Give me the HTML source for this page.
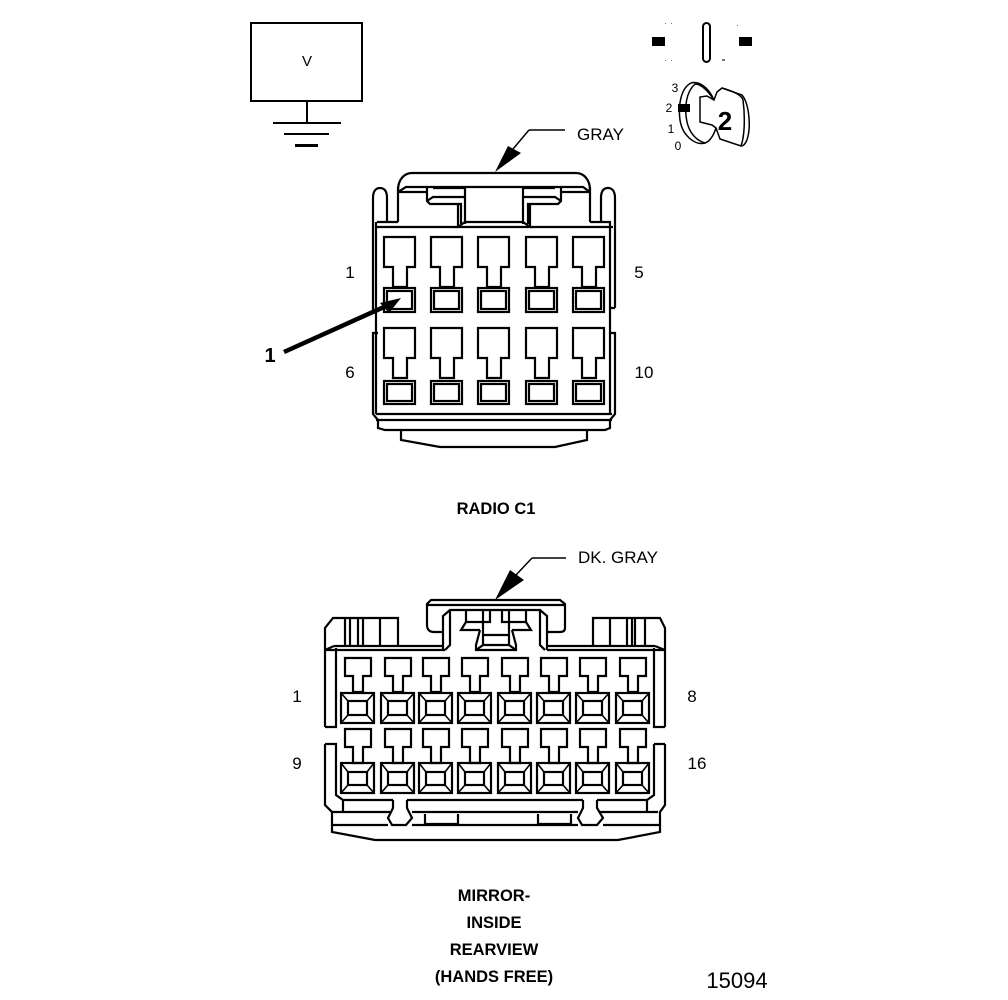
<!DOCTYPE html>
<html><head><meta charset="utf-8"><style>
html,body{margin:0;padding:0;background:#fff;width:1008px;height:1000px;overflow:hidden}
svg{display:block}
text{font-family:"Liberation Sans",sans-serif;fill:#000}
.b{font-weight:bold;font-size:16.5px;text-anchor:middle}
.l{font-size:17px}
</style></head><body>
<svg width="1008" height="1000" viewBox="0 0 1008 1000" xmlns="http://www.w3.org/2000/svg">
<defs>
<g id="a1"><path d="M384 237H415V267H407V287H393V267H384Z"/><rect x="384" y="288" width="31" height="24"/><rect x="387" y="291" width="25" height="18"/></g>
<g id="a2"><path d="M384 328H415V358H407V378H393V358H384Z"/><rect x="384" y="381" width="31" height="23"/><rect x="387" y="384" width="25" height="17"/></g>
<g id="c1"><path d="M345 658H371V676H363V692H353V676H345Z"/><rect x="341" y="693" width="33" height="30"/><rect x="348" y="701" width="19" height="14"/><path d="M341 693L348 701M374 693L367 701M341 723L348 715M374 723L367 715" stroke-width="1.6"/></g>
<g id="c2"><path d="M345 729H371V747H363V763H353V747H345Z"/><rect x="341" y="763" width="33" height="30"/><rect x="348" y="772" width="19" height="13"/><path d="M341 763L348 772M374 763L367 772M341 793L348 785M374 793L367 785" stroke-width="1.6"/></g>
</defs>

<!-- ground box -->
<g fill="none" stroke="#000" stroke-width="2">
<rect x="251" y="23" width="111" height="78"/>
<path d="M307 101V122"/>
<path d="M273 123H341M284 134H329"/>
</g>
<rect x="295" y="144" width="23" height="3"/>
<text x="307" y="66" font-size="15" text-anchor="middle">V</text>

<!-- key symbol -->
<rect x="652" y="37" width="13" height="9"/>
<rect x="739" y="37" width="13" height="9"/>
<rect x="703" y="23" width="7" height="39" rx="3.5" fill="none" stroke="#000" stroke-width="2"/>
<g fill="#777">
<rect x="665" y="23" width="1" height="1"/><rect x="671" y="23" width="1" height="1"/><rect x="665" y="60" width="1" height="1"/><rect x="671" y="60" width="1" height="1"/><rect x="737" y="25" width="1" height="1"/><rect x="722" y="59" width="3" height="2"/>
</g>
<g fill="none" stroke="#000" stroke-width="1.5">
<path d="M714 100C708 86 698 81 691 83C681 88 678 105 680 120C682 135 695 146 705 143C711 141 714 134 716 128"/>
<path d="M714 100C707 89 700 84 695 84C686 92 684 108 687 122C690 135 698 141 705 143"/>
<path d="M714 100L717 92L722 88L742 95C748 102 750 118 749 130C748 140 745 146 741 146L720 139L716 128L712 125L700 122L700 97L707 96L714 100Z"/>
<path d="M722 88C736 92 742 96 743 100C745 115 745 135 741 146"/>
</g>
<rect x="678" y="104" width="12" height="8"/>
<text x="725" y="130" font-size="26" font-weight="bold" text-anchor="middle">2</text>
<g font-size="12" text-anchor="middle">
<text x="675" y="92">3</text><text x="669" y="112">2</text><text x="671" y="133">1</text><text x="678" y="150">0</text>
</g>

<!-- GRAY leader -->
<path d="M529 130H565M529 130L513 149" fill="none" stroke="#000" stroke-width="1.5"/>
<path d="M495 172L508 146L521 153Z"/>
<text x="577" y="140" font-size="17">GRAY</text>

<!-- connector 1 body -->
<g fill="none" stroke="#000" stroke-width="2.2">
<path d="M398 190C398 180 404 173 412 173H576C584 173 590 180 590 190"/>
<path d="M398 192L406 187H583L590 192"/>
<path d="M398 187V222M590 187V222"/>
<path d="M398 192H427M590 192H560"/>
<path d="M427 188V201L430 204H461V224M433 188H465V224M427 201L433 197H465"/>
<path d="M561 188V201L558 204H528V224M555 188H523V224M561 201L555 197H523"/>
<path d="M458 227L465 222H523L530 227ZM458 204V227M530 204V227"/>
<path d="M373 310V198C373 191 376 188 380 188C385 188 387 192 387 198V222"/>
<path d="M615 308V198C615 191 612 188 608 188C603 188 601 192 601 198V222"/>
<path d="M377 222H398M590 222H611M375 227H458M530 227H613M376 222V414M610 222V414"/>
<path d="M611 308H615M373 310H376"/>
<path d="M378 333H373V414L378 420V428L385 430H605L610 428V420L615 414V333H610"/>
<path d="M376 414H612M376 420H612"/>
<path d="M401 430V440L440 447H555L587 440V430"/>
<use href="#a1"/><use href="#a1" x="47"/><use href="#a1" x="94"/><use href="#a1" x="142"/><use href="#a1" x="189"/>
<use href="#a2"/><use href="#a2" x="47"/><use href="#a2" x="94"/><use href="#a2" x="142"/><use href="#a2" x="189"/>
</g>

<!-- arrow 1 -->
<path d="M284 352L384 307" stroke="#000" stroke-width="4.5" fill="none"/>
<path d="M401 298L380 303L389 313Z"/>
<text x="270" y="362" font-size="20" font-weight="bold" text-anchor="middle">1</text>

<g class="l" text-anchor="middle">
<text x="350" y="278">1</text><text x="639" y="278">5</text>
<text x="350" y="378">6</text><text x="644" y="378">10</text>
</g>
<text class="b" x="496" y="514">RADIO C1</text>

<!-- DK GRAY leader -->
<path d="M532 558H566M532 558L516 575" fill="none" stroke="#000" stroke-width="1.5"/>
<path d="M495 600L510 570L524 580Z"/>
<text x="578" y="563" font-size="17">DK. GRAY</text>

<!-- connector 2 body -->
<g fill="none" stroke="#000" stroke-width="2.2">
<path d="M427 625V604L431 600H560L565 604V628C565 631 563 632 560 632H547M427 605H565M427 625C427 630 430 632 434 632H443"/>
<path d="M443 650V616L450 610H540L547 616V650M450 610V645L445 650M540 610V645L545 650"/>
<path d="M466 610V622L461 630H480M483 610V630M490 610V622H467M526 610V622L531 630H512M509 610V630M502 610V622H526"/>
<path d="M480 630L476 645V650H516V645L512 630M483 630V645L476 650M509 630V645L516 650M483 635H509M483 645H509"/>
<path d="M325 727V628L333 618H398V645M345 618V645M350 618V645M358 618V645M363 618V645M380 618V645"/>
<path d="M593 645V618H660L665 628V727M610 618V645M627 618V645M632 618V645M635 618V645M645 618V645"/>
<path d="M334 646H443M547 646H655M325 650H445M547 650H665M325 650L334 646M665 650L655 646"/>
<path d="M336 648V727H325M654 648V727H665"/>
<path d="M325 744H336V795L343 800H393M654 744H665M654 744V795L647 800H597"/>
<path d="M325 744V805L332 812V832L375 840H618L660 832V812L665 805V744"/>
<path d="M343 800V812M647 800V812M332 812H390M412 812H578M600 812H658"/>
<path d="M393 800V808L388 818L392 825H406L412 818L407 808V800"/>
<path d="M583 800V808L578 818L582 825H597L603 818L597 808V800"/>
<path d="M407 800H583M332 825H388M412 825H578M603 825H660"/>
<path d="M425 814V824H458V814M538 814V824H571V814"/>
<use href="#c1"/><use href="#c1" x="40"/><use href="#c1" x="78"/><use href="#c1" x="117"/><use href="#c1" x="157"/><use href="#c1" x="196"/><use href="#c1" x="235"/><use href="#c1" x="275"/>
<use href="#c2"/><use href="#c2" x="40"/><use href="#c2" x="78"/><use href="#c2" x="117"/><use href="#c2" x="157"/><use href="#c2" x="196"/><use href="#c2" x="235"/><use href="#c2" x="275"/>
</g>

<g class="l" text-anchor="middle">
<text x="297" y="702">1</text><text x="692" y="702">8</text>
<text x="297" y="769">9</text><text x="697" y="769">16</text>
</g>
<text class="b" x="494" y="901">MIRROR-</text>
<text class="b" x="494" y="928">INSIDE</text>
<text class="b" x="494" y="955">REARVIEW</text>
<text class="b" x="494" y="982">(HANDS FREE)</text>
<text x="737" y="988" font-size="22" text-anchor="middle">15094</text>
</svg>
</body></html>
